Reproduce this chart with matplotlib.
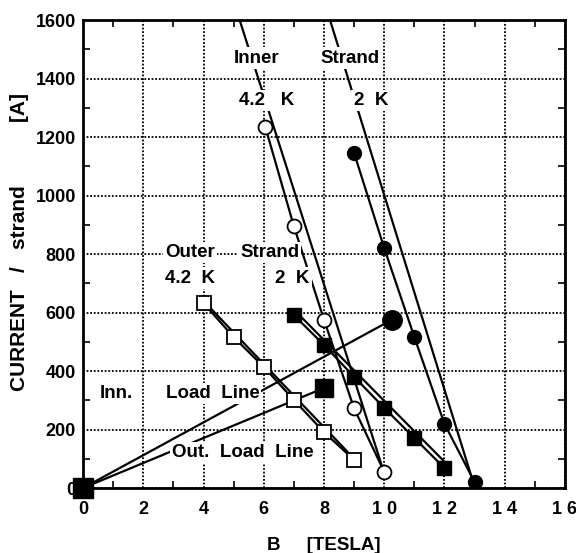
import matplotlib

matplotlib.use("Agg")
import matplotlib.pyplot as plt

plt.rcParams["font.family"] = ["Liberation Sans", "DejaVu Sans"]
plt.rcParams["font.weight"] = "bold"

# measured points, inner strand
inner42_b = [6.05, 7, 8, 9, 10]
inner42_i = [1235, 895, 575, 272, 55]
inner2_b = [9, 10, 11, 12, 13]
inner2_i = [1145, 820, 516, 219, 20]

# measured points, outer strand
outer42_b = [4, 5, 6, 7, 8, 9]
outer42_i = [632, 516, 414, 301, 191, 96]
outer2_b = [7, 8, 9, 10, 11, 12]
outer2_i = [591, 489, 380, 274, 171, 68]

# straight fit lines
inner42_fit_b = [5.2, 10.0]
inner42_fit_i = [1600, 50]
inner2_fit_b = [8.2, 12.95]
inner2_fit_i = [1600, 20]
outer42_fit_b = [4.0, 9.0]
outer42_fit_i = [640, 100]
outer2_fit_b = [7.0, 12.0]
outer2_fit_i = [610, 90]

# load lines
inner_load_b = [0, 10.25]
inner_load_i = [0, 575]
outer_load_b = [0, 8.0]
outer_load_i = [0, 342]

x_ticks = [0, 2, 4, 6, 8, 10, 12, 14, 16]
x_labels = ["0", "2", "4", "6", "8", "1 0", "1 2", "1 4", "1 6"]
y_ticks = [0, 200, 400, 600, 800, 1000, 1200, 1400, 1600]

fig = plt.figure(figsize=(5.76, 5.53), dpi=100)
ax = fig.add_axes([0.1441, 0.1175, 0.8368, 0.8463])

lw = 1.6
ax.plot(inner42_fit_b, inner42_fit_i, color="black", lw=lw, zorder=3)
ax.plot(inner2_fit_b, inner2_fit_i, color="black", lw=lw, zorder=3)
ax.plot(outer42_fit_b, outer42_fit_i, color="black", lw=lw, zorder=3)
ax.plot(outer2_fit_b, outer2_fit_i, color="black", lw=lw, zorder=3)
ax.plot(inner_load_b, inner_load_i, color="black", lw=lw, zorder=3)
ax.plot(outer_load_b, outer_load_i, color="black", lw=lw, zorder=3)

ax.plot(inner42_b, inner42_i, "-o", color="black", lw=lw, ms=10,
        mfc="white", mec="black", mew=1.3, zorder=4)
ax.plot(inner2_b, inner2_i, "-o", color="black", lw=lw, ms=10,
        mfc="black", mec="black", zorder=4)
ax.plot(outer42_b, outer42_i, "-s", color="black", lw=lw, ms=10,
        mfc="white", mec="black", mew=1.3, zorder=4)
ax.plot(outer2_b, outer2_i, "-s", color="black", lw=lw, ms=10,
        mfc="black", mec="black", zorder=4)

# operating points at the end of the load lines
ax.plot(inner_load_b[1], inner_load_i[1], "o", color="black", ms=14, zorder=5)
ax.plot(outer_load_b[1], outer_load_i[1], "s", color="black", ms=13, zorder=5)
ax.plot(0, 0, "s", color="black", ms=14, zorder=6, clip_on=False)

box = dict(facecolor="white", edgecolor="none", pad=1.5)
txt = dict(fontsize=13.5, fontweight="bold", ha="center", va="center",
           bbox=box, zorder=7)
ax.text(5.75, 1470, "Inner", **txt)
ax.text(8.87, 1470, "Strand", **txt)
ax.text(6.1, 1326, "4.2   K", **txt)
ax.text(9.55, 1326, "2  K", **txt)
ax.text(3.55, 805, "Outer", **txt)
ax.text(3.55, 718, "4.2  K", **txt)
ax.text(6.2, 805, "Strand", **txt)
ax.text(6.95, 718, "2  K", **txt)
ax.text(1.1, 322, "Inn.", **txt)
ax.text(4.3, 322, "Load  Line", **txt)
ax.text(5.3, 120, "Out.  Load  Line", **txt)

ax.set_xlim(0, 16)
ax.set_ylim(0, 1600)
ax.set_xticks(x_ticks)
ax.set_xticklabels(x_labels)
ax.set_yticks(y_ticks)
ax.set_xticks(range(0, 17), minor=True)
ax.set_yticks(range(0, 1601, 100), minor=True)
ax.tick_params(which="major", length=0, labelsize=13)
ax.tick_params(axis="x", which="major", pad=9)
ax.tick_params(axis="y", which="major", pad=5)
ax.tick_params(which="minor", direction="in", length=5, width=1.2,
               top=True, right=True)
for label in ax.get_xticklabels() + ax.get_yticklabels():
    label.set_fontweight("bold")

ax.grid(True, which="major", color="black", linestyle=(0, (1, 1)), lw=1.3)
for spine in ax.spines.values():
    spine.set_linewidth(2)

ax.set_xlabel("B     [TESLA]", fontsize=13.5, fontweight="bold", labelpad=14)
ax.set_ylabel("CURRENT   /   strand           [A]", fontsize=15,
              fontweight="bold", labelpad=2)
ax.yaxis.set_label_coords(-0.112, 0.525)

fig.savefig("out.png", dpi=100)
